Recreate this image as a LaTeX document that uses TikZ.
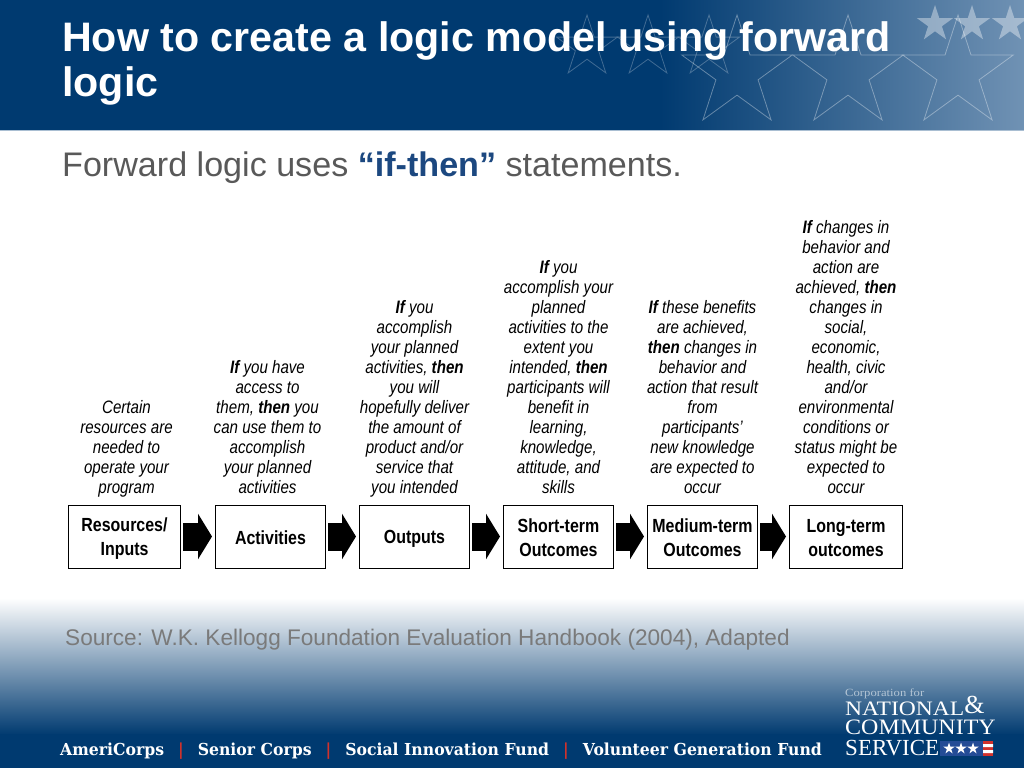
\documentclass[tikz,border=0pt]{standalone}
\usepackage{fontspec}
\usepackage{xcolor}
\setmainfont{Liberation Sans}
\newfontfamily\narrowfont[FakeStretch=0.84]{Liberation Sans}
\newfontfamily\footfont[FakeStretch=0.95]{DejaVu Serif}
\newfontfamily\logofont{Liberation Serif}
\newfontfamily\logowidefont[FakeStretch=1.15]{Liberation Serif}
\newfontfamily\logomidfont[FakeStretch=1.09]{Liberation Serif}
\usetikzlibrary{arrows.meta,positioning,shapes.geometric}
\definecolor{navy}{RGB}{0,58,112}
\definecolor{steel}{RGB}{112,146,180}
\definecolor{ifblue}{RGB}{28,72,128}
\definecolor{flagred}{RGB}{210,50,44}
\definecolor{flagblue}{RGB}{36,76,150}
\newcommand\boxline{\rule[-3pt]{0pt}{21pt}}
\tikzset{
  stepbox/.style={draw,line width=1pt,fill=white,minimum height=63pt,align=center,
    font=\narrowfont\fontsize{19}{24}\selectfont\bfseries,inner sep=0pt},
  desc/.style={align=center,font=\narrowfont\fontsize{18}{20}\selectfont\itshape,
    inner sep=0pt,text depth=0pt},
  flow/.style={line width=28pt,-{Triangle[length=14pt,width=45pt]},shorten <=2pt,shorten >=3pt},
  bigstar/.style={star,star points=5,star point ratio=2.618,minimum size=116pt,inner sep=0pt,
    draw=white,draw opacity=0.35,line width=0.8pt},
  midstar/.style={bigstar,minimum size=64pt,draw opacity=0.25},
  solidstar/.style={star,star points=5,star point ratio=2.618,minimum size=38pt,inner sep=0pt,
    fill=white,fill opacity=0.38},
  flagstar/.style={star,star points=5,star point ratio=2.618,minimum size=12pt,inner sep=0pt,fill=white},
  logoline/.style={anchor=base west,inner sep=0pt,text=white,text height=13pt,text depth=0pt}
}
\begin{document}
\begin{tikzpicture}[x=1pt,y=-1pt]
  \useasboundingbox (0,0) rectangle (1024,768);
  \fill[navy] (0,0) rectangle (661,130);
  \shade[left color=navy,right color=steel] (660,0) rectangle (1024,130);
  \fill[steel!60] (0,130) rectangle (1024,131);
  \shade[top color=white,middle color=navy!45,bottom color=navy] (0,598) rectangle (1024,735);
  \fill[navy] (0,734) rectangle (1024,768);
  % stars in the banner
  \foreach \x/\n in {587/a,648/b,709/c}
    \node[midstar] (mid\n) at (\x,47) {};
  \foreach \x/\n in {737/a,848/b,958/c}
    \node[bigstar] (big\n) at (\x,73) {};
  \foreach \x/\n in {935/a,972/b,1010/c}
    \node[solidstar] (solid\n) at (\x,24) {};
  % headings
  \node[anchor=north west,align=left,text=white,inner sep=0pt,
    font=\fontsize{41.2}{45}\selectfont\bfseries] (title) at (62,21)
    {How to create a logic model using forward\\logic};
  \node[anchor=base west,inner sep=0pt,text=black!65,font=\fontsize{34.1}{38}\selectfont] (subtitle) at (62,176)
    {Forward logic uses \textcolor{ifblue}{\bfseries “if-then”} statements.};
  % the chain of boxes
  \node[stepbox,minimum width=112pt] (inputs) at (124.5,536.5) {\boxline Resources/\\\boxline Inputs};
  \node[stepbox,minimum width=110pt,right=34pt of inputs] (activities) {\boxline Activities};
  \node[stepbox,minimum width=110pt,right=33pt of activities] (outputs) {\boxline Outputs};
  \node[stepbox,minimum width=110pt,right=33pt of outputs] (shortterm) {\boxline Short-term\\\boxline Outcomes};
  \node[stepbox,minimum width=110pt,right=33pt of shortterm] (mediumterm) {\boxline Medium-term\\\boxline Outcomes};
  \node[stepbox,minimum width=113pt,right=31pt of mediumterm] (longterm) {\boxline Long-term\\\boxline outcomes};
  \draw[flow] (inputs) -- (activities);
  \draw[flow] (activities) -- (outputs);
  \draw[flow] (outputs) -- (shortterm);
  \draw[flow] (shortterm) -- (mediumterm);
  \draw[flow] (mediumterm) -- (longterm);
  % if-then statements
  \node[desc,above=11pt of inputs,xshift=2pt] (inputstext) {Certain\\resources are\\needed to\\operate your\\program};
  \node[desc,above=11pt of activities,xshift=-3pt] (activitiestext)
    {\textbf{If} you have\\access to\\them, \textbf{then} you\\can use them to\\accomplish\\your planned\\activities};
  \node[desc,above=11pt of outputs] (outputstext)
    {\textbf{If} you\\accomplish\\your planned\\activities, \textbf{then}\\you will\\hopefully deliver\\the amount of\\product and/or\\service that\\you intended};
  \node[desc,above=11pt of shortterm] (shorttermtext)
    {\textbf{If} you\\accomplish your\\planned\\activities to the\\extent you\\intended, \textbf{then}\\participants will\\benefit in\\learning,\\knowledge,\\attitude, and\\skills};
  \node[desc,above=11pt of mediumterm] (mediumtermtext)
    {\textbf{If} these benefits\\are achieved,\\\textbf{then} changes in\\behavior and\\action that result\\from\\participants’\\new knowledge\\are expected to\\occur};
  \node[desc,above=11pt of longterm] (longtermtext)
    {\textbf{If} changes in\\behavior and\\action are\\achieved, \textbf{then}\\changes in\\social,\\economic,\\health, civic\\and/or\\environmental\\conditions or\\status might be\\expected to\\occur};
  % source and footer
  \node[anchor=base west,inner sep=0pt,text=black!52,font=\fontsize{22.6}{26}\selectfont] (source) at (65,645)
    {Source: W.K. Kellogg Foundation Evaluation Handbook (2004), Adapted};
  \node[anchor=base west,inner sep=0pt,text=white,font=\footfont\fontsize{16.5}{20}\selectfont\bfseries] (programs) at (60,755)
    {AmeriCorps\hspace{14pt}\textcolor{flagred}{|}\hspace{14pt}Senior Corps\hspace{14pt}\textcolor{flagred}{|}\hspace{14pt}Social Innovation Fund\hspace{14pt}\textcolor{flagred}{|}\hspace{14pt}Volunteer Generation Fund};
  % logo
  \node[logoline,text=white!70!navy,text height=8pt,font=\logowidefont\fontsize{11}{12}\selectfont] (logotop) at (845,696)
    {Corporation for};
  \node[logoline,font=\logowidefont\fontsize{20.5}{24}\selectfont] (logoa) at (845,715)
    {NATIONAL{\logofont\fontsize{26}{26}\selectfont\raisebox{1.5pt}{\&}}};
  \node[logoline,font=\logomidfont\fontsize{22}{24}\selectfont] (logob) at (845,734)
    {COMMUNITY};
  \node[logoline,font=\logofont\fontsize{23}{24}\selectfont] (logoc) at (845,755.5)
    {SERVICE};
  \fill[flagblue] (940,741) rectangle (983,756);
  \fill[flagred] (983,741) rectangle (993,756);
  \fill[white] (983,744) rectangle (993,747) (983,750) rectangle (993,753);
  \foreach \x/\n in {949/a,961/b,973/c}
    \node[flagstar] (flag\n) at (\x,748.5) {};
\end{tikzpicture}
\end{document}
